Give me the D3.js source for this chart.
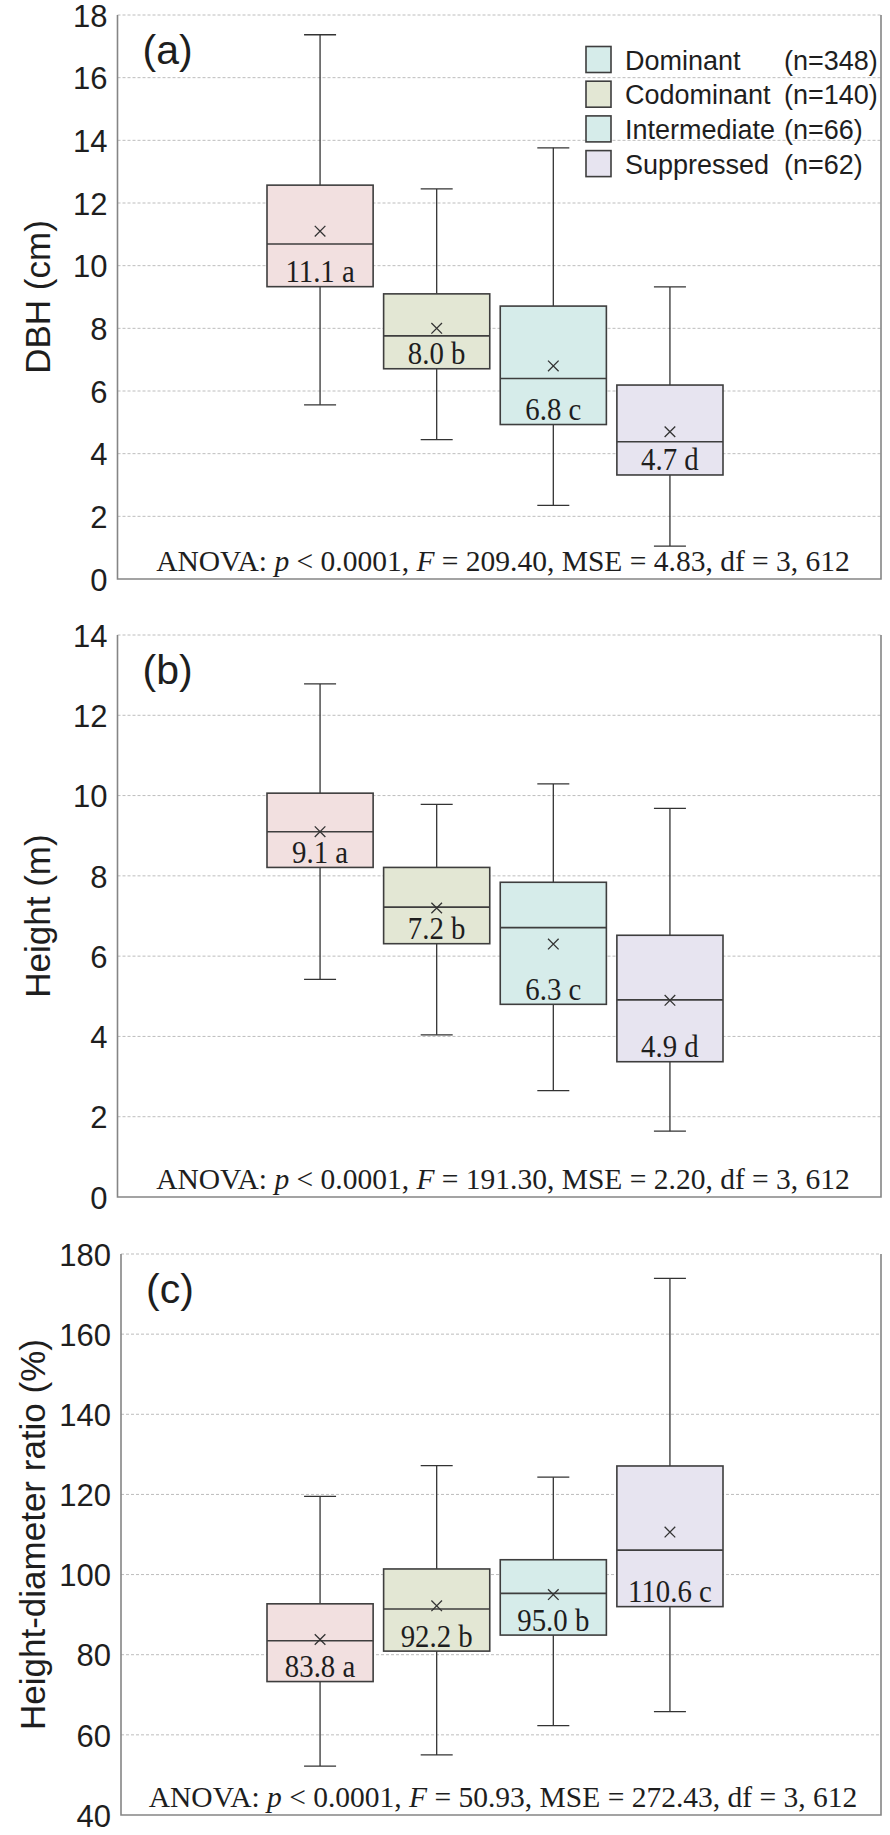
<!DOCTYPE html>
<html><head><meta charset="utf-8">
<script src="https://cdn.jsdelivr.net/npm/d3@7/dist/d3.min.js"></script>
<style>html,body{margin:0;padding:0;background:#fff;}svg{display:block;}</style>
</head><body>
<svg id="chart" width="890" height="1835"></svg>
<script>
// ---------- DATA ----------
const groups = ["Dominant", "Codominant", "Intermediate", "Suppressed"];
const groupN = [348, 140, 66, 62];

// (a) DBH (cm)
const dbhMax    = [17.37, 12.45, 13.76, 9.32];
const dbhQ3     = [12.57, 9.10, 8.71, 6.19];
const dbhMedian = [10.69, 7.76, 6.40, 4.38];
const dbhQ1     = [9.33, 6.71, 4.93, 3.32];
const dbhMin    = [5.56, 4.45, 2.35, 1.05];
const dbhMean   = [11.1, 8.0, 6.8, 4.7];
const dbhLetter = ["a", "b", "c", "d"];
const dbhTicks  = [0, 2, 4, 6, 8, 10, 12, 14, 16, 18];

// (b) Height (m)
const htMax    = [12.78, 9.78, 10.29, 9.68];
const htQ3     = [10.06, 8.21, 7.84, 6.52];
const htMedian = [9.10, 7.22, 6.71, 4.91];
const htQ1     = [8.21, 6.31, 4.80, 3.37];
const htMin    = [5.42, 4.04, 2.65, 1.64];
const htMean   = [9.1, 7.2, 6.3, 4.9];
const htLetter = ["a", "b", "c", "d"];
const htTicks  = [0, 2, 4, 6, 8, 10, 12, 14];

// (c) Height-diameter ratio (%)
const hdMax    = [119.5, 127.2, 124.3, 173.9];
const hdQ3     = [92.7, 101.4, 103.7, 127.1];
const hdMedian = [83.5, 91.4, 95.3, 106.1];
const hdQ1     = [73.3, 80.9, 84.9, 92.0];
const hdMin    = [52.2, 55.0, 62.3, 65.8];
const hdMean   = [83.8, 92.2, 95.0, 110.6];
const hdLetter = ["a", "b", "b", "c"];
const hdTicks  = [40, 60, 80, 100, 120, 140, 160, 180];

// ANOVA summaries
const anovaF   = ["209.40", "191.30", "50.93"];
const anovaMSE = ["4.83", "2.20", "272.43"];
const anovaP   = "0.0001";
const anovaDf  = "3, 612";

// ---------- STYLE ----------
const boxFill    = ["#f2e0e0", "#e3e7d4", "#d6ecea", "#e7e4f0"];
const legendFill = ["#d6ecea", "#e3e7d4", "#d6ecea", "#e7e4f0"];
const sans  = "'Liberation Sans', Arial, sans-serif";
const serif = "'Liberation Serif', 'Times New Roman', serif";
const ink = "#1e1e1e";

const panels = [
  {lab:"(a)", title:"DBH (cm)", ticks:dbhTicks, max:dbhMax, q3:dbhQ3, med:dbhMedian, q1:dbhQ1, min:dbhMin, mean:dbhMean, letter:dbhLetter,
   top:15, bottom:579, left:117.5, titleX:50, legend:true},
  {lab:"(b)", title:"Height (m)", ticks:htTicks, max:htMax, q3:htQ3, med:htMedian, q1:htQ1, min:htMin, mean:htMean, letter:htLetter,
   top:635, bottom:1197, left:117.5, titleX:50, legend:false},
  {lab:"(c)", title:"Height-diameter ratio (%)", ticks:hdTicks, max:hdMax, q3:hdQ3, med:hdMedian, q1:hdQ1, min:hdMin, mean:hdMean, letter:hdLetter,
   top:1254, bottom:1815, left:121, titleX:45, legend:false}
];
const plotRight = 881;

const svg = d3.select("#chart");

const x = d3.scaleBand().domain(groups).range([267, 723]).paddingInner(0.09).paddingOuter(0);

panels.forEach((p, pi) => {
  const g = svg.append("g");
  const y = d3.scaleLinear().domain([p.ticks[0], p.ticks[p.ticks.length - 1]]).range([p.bottom, p.top]);

  // gridlines
  g.append("g").selectAll("line").data(p.ticks.slice(1)).join("line")
    .attr("x1", p.left).attr("x2", plotRight)
    .attr("y1", d => y(d)).attr("y2", d => y(d))
    .attr("stroke", "#bdbdbd").attr("stroke-width", 1).attr("stroke-dasharray", "3,2");

  // axis
  const ax = g.append("g").attr("transform", `translate(${p.left},0)`)
    .call(d3.axisLeft(y).tickValues(p.ticks).tickSize(0).tickPadding(10));
  ax.select(".domain").remove();
  ax.selectAll("text").attr("font-family", sans).attr("font-size", 31).attr("fill", ink).attr("dy", "0.36em");

  // frame: left, bottom, right
  g.append("path")
    .attr("d", `M${p.left},${p.top}V${p.bottom}H${plotRight}V${p.top}`)
    .attr("fill", "none").attr("stroke", "#858585").attr("stroke-width", 1.6);

  // axis title
  g.append("text")
    .attr("transform", `translate(${p.titleX},${(p.top + p.bottom) / 2}) rotate(-90)`)
    .attr("text-anchor", "middle").attr("font-family", sans).attr("font-size", 35).attr("fill", ink)
    .text(p.title);

  // panel label
  g.append("text").attr("x", p.left + 25).attr("y", p.top + 49)
    .attr("font-family", sans).attr("font-size", 41).attr("fill", ink).text(p.lab);

  const cap = 32;
  const boxes = g.append("g").selectAll("g").data(groups).join("g");
  boxes.each(function(name, i) {
    const b = d3.select(this);
    const cx = x(name) + x.bandwidth() / 2;
    // whiskers
    b.append("line").attr("x1", cx).attr("x2", cx).attr("y1", y(p.max[i])).attr("y2", y(p.q3[i]))
      .attr("stroke", "#333").attr("stroke-width", 1.3);
    b.append("line").attr("x1", cx).attr("x2", cx).attr("y1", y(p.q1[i])).attr("y2", y(p.min[i]))
      .attr("stroke", "#333").attr("stroke-width", 1.3);
    b.append("line").attr("x1", cx - cap / 2).attr("x2", cx + cap / 2).attr("y1", y(p.max[i])).attr("y2", y(p.max[i]))
      .attr("stroke", "#333").attr("stroke-width", 1.3);
    b.append("line").attr("x1", cx - cap / 2).attr("x2", cx + cap / 2).attr("y1", y(p.min[i])).attr("y2", y(p.min[i]))
      .attr("stroke", "#333").attr("stroke-width", 1.3);
    // box
    b.append("rect").attr("x", x(name)).attr("width", x.bandwidth())
      .attr("y", y(p.q3[i])).attr("height", y(p.q1[i]) - y(p.q3[i]))
      .attr("fill", boxFill[i]).attr("stroke", "#3e3e3e").attr("stroke-width", 1.6);
    // median
    b.append("line").attr("x1", x(name)).attr("x2", x(name) + x.bandwidth())
      .attr("y1", y(p.med[i])).attr("y2", y(p.med[i]))
      .attr("stroke", "#3e3e3e").attr("stroke-width", 1.6);
    // mean marker
    const my = y(p.mean[i]), s = 5.3;
    b.append("path").attr("d", `M${cx - s},${my - s}L${cx + s},${my + s}M${cx - s},${my + s}L${cx + s},${my - s}`)
      .attr("stroke", "#333").attr("stroke-width", 1.3).attr("fill", "none");
    // label
    b.append("text")
      .attr("transform", `translate(${cx},${y(p.q1[i]) - 4.5}) scale(0.93,1)`)
      .attr("text-anchor", "middle").attr("font-family", serif).attr("font-size", 31).attr("fill", ink)
      .text(`${p.mean[i].toFixed(1)} ${p.letter[i]}`);
  });

  // ANOVA line
  const t = g.append("text").attr("x", 503).attr("y", p.bottom - 8)
    .attr("text-anchor", "middle").attr("font-family", serif).attr("font-size", 29.5).attr("fill", ink);
  t.append("tspan").text("ANOVA: ");
  t.append("tspan").attr("font-style", "italic").text("p");
  t.append("tspan").text(` < ${anovaP}, `);
  t.append("tspan").attr("font-style", "italic").text("F");
  t.append("tspan").text(` = ${anovaF[pi]}, MSE = ${anovaMSE[pi]}, df = ${anovaDf}`);

  // legend
  if (p.legend) {
    const lg = g.append("g");
    groups.forEach((name, i) => {
      const cy = 59.5 + i * 34.7;
      lg.append("rect").attr("x", 586).attr("y", cy - 13).attr("width", 25).attr("height", 26)
        .attr("fill", legendFill[i]).attr("stroke", "#3e3e3e").attr("stroke-width", 1.6);
      const nt = lg.append("text").attr("x", 625).attr("y", cy + 10)
        .attr("font-family", sans).attr("font-size", 27).attr("fill", ink).text(name);
      const w = nt.node().getComputedTextLength();
      lg.append("text").attr("x", Math.max(784, 625 + w + 4)).attr("y", cy + 10)
        .attr("font-family", sans).attr("font-size", 27).attr("fill", ink).text(`(n=${groupN[i]})`);
    });
  }
});
</script>
</body></html>
